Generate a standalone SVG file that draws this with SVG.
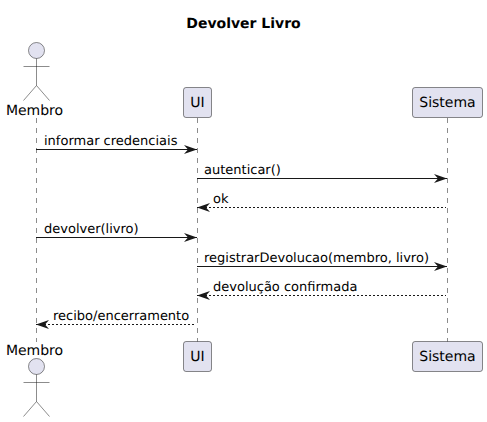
<svg xmlns="http://www.w3.org/2000/svg" width="487" height="422" viewBox="0 0 487 422">
<style>
text{font-family:"DejaVu Sans",sans-serif;font-size:13px;fill:#000;text-rendering:geometricPrecision}
.title{font-size:14px;font-weight:bold}
.name{font-size:14px}
.life{stroke:#181818;stroke-width:.5;stroke-dasharray:5,5}
.box{fill:#E2E2F0;stroke:#181818;stroke-width:.5}
.m{stroke:#181818;stroke-width:1;fill:none}
.d{stroke-dasharray:2,2}
.a{fill:#E2E2F0;stroke:#181818;stroke-width:.5}
.l{stroke:#181818;stroke-width:.5;fill:none}
</style>
<defs>
<marker id="head" markerUnits="userSpaceOnUse" markerWidth="14" markerHeight="12" refX="13" refY="5" orient="auto-start-reverse"><path d="M0,.5L13,5L0,9.500L4,5Z" fill="#181818"/></marker>
</defs>
<text class="title" x="243.500" y="28" text-anchor="middle">Devolver Livro</text>
<g id="connectors">
<line class="life" x1="36.500" y1="118" x2="36.500" y2="342"/>
<line class="life" x1="197.500" y1="118" x2="197.500" y2="342"/>
<line class="life" x1="447.500" y1="118" x2="447.500" y2="342"/>
<line class="m" x1="36" y1="149.500" x2="197" y2="149.500" marker-end="url(#head)"/>
<text x="44" y="145">informar credenciais</text>
<line class="m" x1="197" y1="178.500" x2="447" y2="178.500" marker-end="url(#head)"/>
<text x="204" y="174">autenticar()</text>
<line class="m d" x1="197" y1="207.500" x2="446" y2="207.500" marker-start="url(#head)"/>
<text x="213" y="203">ok</text>
<line class="m" x1="36" y1="237.500" x2="197" y2="237.500" marker-end="url(#head)"/>
<text x="44" y="233">devolver(livro)</text>
<line class="m" x1="197" y1="266.500" x2="447" y2="266.500" marker-end="url(#head)"/>
<text x="204" y="262">registrarDevolucao(membro, livro)</text>
<line class="m d" x1="197" y1="295.500" x2="446" y2="295.500" marker-start="url(#head)"/>
<text x="213" y="291">devolução confirmada</text>
<line class="m d" x1="36" y1="324.500" x2="196" y2="324.500" marker-start="url(#head)"/>
<text x="53" y="320">recibo/encerramento</text>
</g>
<g id="membro-top"><circle class="a" cx="36.500" cy="50.500" r="8"/><path class="l" d="M36.500,58.500V85.500M23.500,66.500H49.500M36.500,85.500L23.500,100.500M36.500,85.500L49.500,100.500"/><text class="name" x="34.500" y="115" text-anchor="middle">Membro</text></g>
<g id="ui-top"><rect class="box" x="183.500" y="87.500" width="28" height="30" rx="2.500"/><text class="name" x="197.500" y="107" text-anchor="middle">UI</text></g>
<g id="sistema-top"><rect class="box" x="412.500" y="87.500" width="70" height="30" rx="2.500"/><text class="name" x="447.500" y="107" text-anchor="middle">Sistema</text></g>
<g id="membro-bottom"><text class="name" x="34.500" y="355" text-anchor="middle">Membro</text><circle class="a" cx="36.500" cy="366.500" r="8"/><path class="l" d="M36.500,374.500V401.500M23.500,382.500H49.500M36.500,401.500L23.500,416.500M36.500,401.500L49.500,416.500"/></g>
<g id="ui-bottom"><rect class="box" x="183.500" y="341.500" width="28" height="30" rx="2.500"/><text class="name" x="197.500" y="361" text-anchor="middle">UI</text></g>
<g id="sistema-bottom"><rect class="box" x="412.500" y="341.500" width="70" height="30" rx="2.500"/><text class="name" x="447.500" y="361" text-anchor="middle">Sistema</text></g>
</svg>
